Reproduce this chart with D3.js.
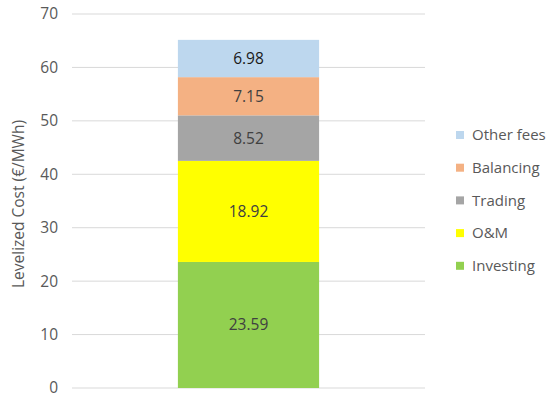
<!DOCTYPE html>
<html>
<head>
<meta charset="utf-8">
<script src="https://cdn.jsdelivr.net/npm/d3@7"></script>
<style>
body { margin:0; background:#fff; }
text { font-family: "Open Sans", "DejaVu Sans", sans-serif; }
</style>
</head>
<body>
<svg id="chart" width="550" height="398"></svg>
<script>
// data
const categories = ["Investing", "O&M", "Trading", "Balancing", "Other fees"];
const values = [23.59, 18.92, 8.52, 7.15, 6.98];
const colors = ["#92D050", "#FFFF00", "#A5A5A5", "#F4B183", "#BDD7EE"];
const labelColors = ["#404040", "#404040", "#404040", "#404040", "#1a1a1a"];
const yTicks = [0, 10, 20, 30, 40, 50, 60, 70];

const svg = d3.select("#chart");

const y = d3.scaleLinear().domain([0, 70]).range([388, 14]);
const x = d3.scaleBand().domain(["cost"]).range([72, 425]).paddingInner(0).paddingOuter(0.75);

// gridlines
svg.append("g").selectAll("line")
    .data(yTicks)
    .enter()
    .append("line")
    .attr("x1", 72).attr("x2", 425)
    .attr("y1", d => y(d)).attr("y2", d => y(d))
    .attr("stroke", "#d9d9d9").attr("stroke-width", 1);

// y axis
let yAxis = svg.append("g")
    .attr("transform", "translate(58,0)")
    .call(d3.axisLeft(y).tickValues(yTicks).tickSize(0).tickPadding(0));
yAxis.select(".domain").remove();
yAxis.selectAll("text")
    .attr("font-size", 15.5)
    .attr("fill", "#595959")
    .style("font-family", '"Open Sans", sans-serif');

svg.append("text")
    .attr("transform", "translate(24,204) rotate(-90)")
    .attr("text-anchor", "middle")
    .attr("font-size", 15.5)
    .attr("fill", "#595959")
    .text("Levelized Cost (€/MWh)");

// stack
let stacked = [];
let acc = 0;
values.forEach((v, i) => {
    stacked.push({ name: categories[i], v: v, y0: acc, y1: acc + v, c: colors[i], lc: labelColors[i] });
    acc += v;
});

svg.append("g").selectAll("rect")
    .data(stacked)
    .enter()
    .append("rect")
    .attr("x", x("cost"))
    .attr("width", x.bandwidth())
    .attr("y", d => y(d.y1))
    .attr("height", d => y(d.y0) - y(d.y1))
    .attr("fill", d => d.c);

svg.append("g").selectAll("text")
    .data(stacked)
    .enter()
    .append("text")
    .attr("x", x("cost") + x.bandwidth() / 2)
    .attr("y", d => y((d.y0 + d.y1) / 2))
    .attr("dy", "0.35em")
    .attr("text-anchor", "middle")
    .attr("font-size", 15.5)
    .attr("fill", d => d.lc)
    .text(d => d.v.toFixed(2));

// legend (top item = last series)
const legendItems = stacked.slice().reverse();
let legend = svg.append("g").selectAll("g")
    .data(legendItems)
    .enter()
    .append("g")
    .attr("transform", (d, i) => "translate(456," + (135 + i * 32.7) + ")");
legend.append("rect")
    .attr("x", 0).attr("y", -4)
    .attr("width", 8).attr("height", 8)
    .attr("fill", d => d.c);
legend.append("text")
    .attr("x", 16)
    .attr("dy", "0.35em")
    .attr("font-size", 15)
    .attr("fill", "#595959")
    .text(d => d.name);
</script>
</body>
</html>
